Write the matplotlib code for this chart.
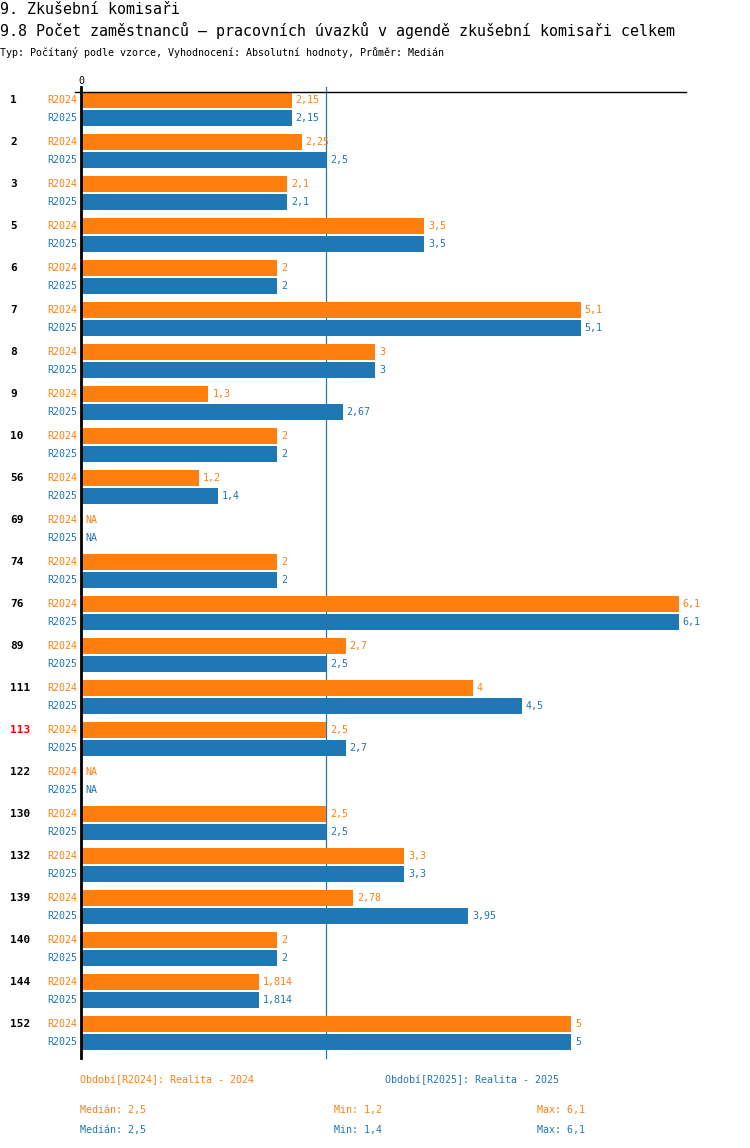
import matplotlib
matplotlib.use("Agg")
import matplotlib.pyplot as plt
from matplotlib.lines import Line2D

plt.rcParams['font.family'] = ['DejaVu Sans Mono', 'DejaVu Sans']

groups = ['1', '2', '3', '5', '6', '7', '8', '9', '10', '56', '69', '74', '76',
          '89', '111', '113', '122', '130', '132', '139', '140', '144', '152']
r2024 = [2.15, 2.25, 2.1, 3.5, 2, 5.1, 3, 1.3, 2, 1.2, None, 2, 6.1,
         2.7, 4, 2.5, None, 2.5, 3.3, 2.78, 2, 1.814, 5]
r2025 = [2.15, 2.5, 2.1, 3.5, 2, 5.1, 3, 2.67, 2, 1.4, None, 2, 6.1,
         2.5, 4.5, 2.7, None, 2.5, 3.3, 3.95, 2, 1.814, 5]
highlight = '113'
median = 2.5
series_names = ['R2024', 'R2025']
legend_texts = ['Období[R2024]: Realita - 2024', 'Období[R2025]: Realita - 2025']
stats = [['Medián: 2,5', 'Min: 1,2', 'Max: 6,1'],
         ['Medián: 2,5', 'Min: 1,4', 'Max: 6,1']]

ORANGE = '#ff7f0e'
BLUE = '#1f77b4'
colors = [ORANGE, BLUE]

W, H = 750, 1148
fig = plt.figure(figsize=(W / 100, H / 100), dpi=100)


def fx(x):
    return x / W


def fy(y):
    return 1 - y / H


# axes placement in pixels
L, R, T, B = 81, 686, 92, 1058
PX_PER_UNIT = 98.0
GROUP_PX = 42.0
BAR_PX = 18.0
FIRST_CENTER = 100.0

ax = fig.add_axes([fx(L), fy(B), (R - L) / W, (B - T) / H])
ax.set_xlim(0, (R - L) / PX_PER_UNIT)
ax.set_ylim((B - FIRST_CENTER) / GROUP_PX, (T - FIRST_CENTER) / GROUP_PX)
for s in ['right', 'bottom', 'top', 'left']:
    ax.spines[s].set_visible(False)
ax.set_xticks([])
ax.set_yticks([])
ax.patch.set_alpha(0)

off = BAR_PX / GROUP_PX
h = 16.0 / GROUP_PX
pad = 4.0 / PX_PER_UNIT


def fmt(v):
    return f"{v:g}".replace('.', ',')


for i, g in enumerate(groups):
    for j, vals in enumerate([r2024, r2025]):
        y = i + j * off
        v = vals[i]
        c = colors[j]
        if v is not None:
            ax.barh(y, v, height=h, color=c, zorder=3)
            ax.text(v + pad, y, fmt(v), color=c, fontsize=7.2,
                    va='center', ha='left', clip_on=False)
        else:
            ax.text(pad, y, 'NA', color=c, fontsize=7.2,
                    va='center', ha='left', clip_on=False)
        ax.text(-4.0 / PX_PER_UNIT, y, series_names[j], color=c, fontsize=7.2,
                va='center', ha='right', clip_on=False)
    ax.text(-71.0 / PX_PER_UNIT, i, g, color='#ff0000' if g == highlight else 'black',
            fontsize=8, fontweight='bold', va='center', ha='left', clip_on=False)

# median line (behind bars)
ax.axvline(median, ymin=0, ymax=1 + 5.0 / (B - T), color=BLUE, lw=0.9,
           zorder=1, clip_on=False)
# axes lines
fig.add_artist(Line2D([fx(75), fx(686)], [fy(92), fy(92)], color='black', lw=1.0))
fig.add_artist(Line2D([fx(81), fx(81)], [fy(87), fy(1058)], color='black', lw=2.0, zorder=5))
fig.text(fx(81), fy(81), '0', fontsize=7.2, ha='center', va='center')

# titles
fig.text(fx(0), fy(14), '9. Zkušební komisaři', fontsize=10.8, ha='left', va='baseline')
fig.text(fx(0), fy(36), '9.8 Počet zaměstnanců – pracovních úvazků v agendě zkušební komisaři celkem',
         fontsize=10.8, ha='left', va='baseline')
fig.text(fx(0), fy(56), 'Typ: Počítaný podle vzorce, Vyhodnocení: Absolutní hodnoty, Průměr: Medián',
         fontsize=7.2, ha='left', va='baseline')

# legend
fig.text(fx(80), fy(1080), legend_texts[0], color=ORANGE, fontsize=7.2, ha='left', va='center')
fig.text(fx(385), fy(1080), legend_texts[1], color=BLUE, fontsize=7.2, ha='left', va='center')
cols = [80, 334, 537]
rows = [1110, 1130]
for r, row in enumerate(stats):
    for k, t in enumerate(row):
        fig.text(fx(cols[k]), fy(rows[r]), t, color=colors[r], fontsize=7.2,
                 ha='left', va='center')

fig.savefig('out.png', dpi=100)
